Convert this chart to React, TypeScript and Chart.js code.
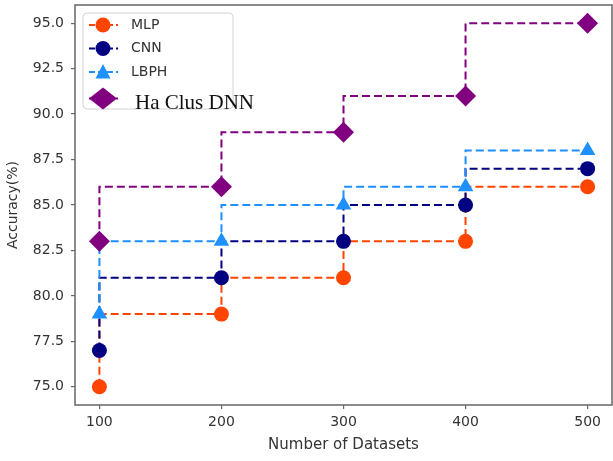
import React, { useEffect, useRef } from "react";
import { Chart, registerables } from "chart.js";

Chart.register(...registerables);

// ---- data ----
const datasetSizes = [100, 200, 300, 400, 500];
const mlpAccuracy = [75, 79, 81, 83, 86];
const cnnAccuracy = [77, 81, 83, 85, 87];
const lbphAccuracy = [79, 83, 85, 86, 88];
const haClusDnnAccuracy = [83, 86, 89, 91, 95];
const xTickValues = [100, 200, 300, 400, 500];
const yTickValues = [75, 77.5, 80, 82.5, 85, 87.5, 90, 92.5, 95];
const seriesLabels = ["MLP", "CNN", "LBPH", "Ha Clus DNN"];

const colors = ["#FF4500", "#000080", "#1E90FF", "#800080"];
const shapes = ["circle", "circle", "triangle", "rectRot"];
const radii = [7.5, 7.5, 9, 10.5];
const seriesValues = [mlpAccuracy, cnnAccuracy, lbphAccuracy, haClusDnnAccuracy];

const SPINE = "#666666";
const TEXT = "#333333";

function drawMarker(ctx: CanvasRenderingContext2D, shape: string, x: number, y: number, color: string, legend: boolean) {
  ctx.fillStyle = color;
  ctx.beginPath();
  if (shape === "circle") {
    ctx.arc(x, y, 7.5, 0, Math.PI * 2);
  } else if (shape === "triangle") {
    ctx.moveTo(x, y - 8);
    ctx.lineTo(x + 7.5, y + 6.5);
    ctx.lineTo(x - 7.5, y + 6.5);
    ctx.closePath();
  } else {
    const hw = legend ? 14 : 10.5;
    const hh = legend ? 11 : 10.5;
    ctx.moveTo(x - hw, y);
    ctx.lineTo(x, y - hh);
    ctx.lineTo(x + hw, y);
    ctx.lineTo(x, y + hh);
    ctx.closePath();
  }
  ctx.fill();
}

const framePlugin = {
  id: "frameAndLegend",
  afterDraw(chart: any) {
    const { ctx, chartArea } = chart;
    ctx.save();
    // spines
    ctx.strokeStyle = SPINE;
    ctx.lineWidth = 1.5;
    ctx.strokeRect(chartArea.left, chartArea.top, chartArea.right - chartArea.left, chartArea.bottom - chartArea.top);

    // legend box
    const bx = chartArea.left + 8;
    const by = chartArea.top + 8;
    const bw = 150;
    const bh = 96;
    const r = 4;
    ctx.beginPath();
    ctx.moveTo(bx + r, by);
    ctx.lineTo(bx + bw - r, by);
    ctx.quadraticCurveTo(bx + bw, by, bx + bw, by + r);
    ctx.lineTo(bx + bw, by + bh - r);
    ctx.quadraticCurveTo(bx + bw, by + bh, bx + bw - r, by + bh);
    ctx.lineTo(bx + r, by + bh);
    ctx.quadraticCurveTo(bx, by + bh, bx, by + bh - r);
    ctx.lineTo(bx, by + r);
    ctx.quadraticCurveTo(bx, by, bx + r, by);
    ctx.closePath();
    ctx.fillStyle = "rgba(255,255,255,0.85)";
    ctx.fill();
    ctx.strokeStyle = "#d4d4d4";
    ctx.lineWidth = 1;
    ctx.stroke();

    seriesLabels.forEach((label, i) => {
      const cy = by + 12 + i * 23.5 + (i === 3 ? 3 : 0);
      const lx0 = bx + 6;
      const lx1 = bx + 35;
      const mx = bx + 20;
      ctx.strokeStyle = colors[i];
      ctx.lineWidth = 2;
      ctx.setLineDash([6, 3]);
      ctx.beginPath();
      ctx.moveTo(lx0, cy);
      ctx.lineTo(lx1, cy);
      ctx.stroke();
      ctx.setLineDash([]);
      drawMarker(ctx, shapes[i], mx, cy, colors[i], true);
      ctx.textBaseline = "middle";
      ctx.textAlign = "left";
      if (i === 3) {
        ctx.fillStyle = "#111111";
        ctx.font = "21px 'Liberation Serif', 'DejaVu Serif', serif";
        ctx.fillText(label, bx + 52, cy + 5);
      } else {
        ctx.fillStyle = TEXT;
        ctx.font = "14px 'DejaVu Sans', sans-serif";
        ctx.fillText(label, bx + 48, cy);
      }
    });
    ctx.restore();
  },
};

function zeroPadding(scale: any) {
  scale.paddingTop = 0;
  scale.paddingBottom = 0;
  scale.paddingLeft = 0;
  scale.paddingRight = 0;
}

export default function App() {
  const canvasRef = useRef<HTMLCanvasElement | null>(null);

  useEffect(() => {
    if (!canvasRef.current) return;
    const datasets = seriesLabels.map((label, i) => ({
      label,
      data: datasetSizes.map((x, j) => ({ x, y: seriesValues[i][j] })),
      borderColor: colors[i],
      backgroundColor: colors[i],
      borderWidth: 2,
      borderDash: [8, 4],
      stepped: "after" as const,
      pointStyle: shapes[i],
      pointRadius: radii[i],
      pointBorderWidth: 0,
      pointBackgroundColor: colors[i],
      order: 4 - i,
      fill: false,
    }));

    const chart = new Chart(canvasRef.current, {
      type: "line",
      data: { datasets },
      plugins: [framePlugin],
      options: {
        animation: false,
        responsive: false,
        devicePixelRatio: 1,
        layout: { autoPadding: false, padding: { top: 5, right: 1, left: 0, bottom: 0 } },
        plugins: { legend: { display: false }, tooltip: { enabled: false } },
        scales: {
          x: {
            type: "linear",
            min: 80,
            max: 520,
            afterBuildTicks: (scale: any) => {
              scale.ticks = xTickValues.map((v) => ({ value: v }));
            },
            afterFit: (scale: any) => {
              scale.height = 56;
              zeroPadding(scale);
            },
            ticks: {
              color: TEXT,
              font: { family: "'DejaVu Sans', sans-serif", size: 14 },
              padding: 5,
              maxRotation: 0,
              callback: (v: any) => String(v),
            },
            grid: { display: true, drawOnChartArea: false, drawTicks: true, tickLength: 4, color: SPINE, lineWidth: 1.2 },
            border: { display: false },
            title: {
              display: true,
              text: "Number of Datasets",
              color: TEXT,
              font: { family: "'DejaVu Sans', sans-serif", size: 15 },
              padding: { top: 0, bottom: 7 },
            },
          },
          y: {
            type: "linear",
            min: 74,
            max: 96,
            afterBuildTicks: (scale: any) => {
              scale.ticks = yTickValues.map((v) => ({ value: v }));
            },
            afterFit: (scale: any) => {
              scale.width = 75;
              zeroPadding(scale);
            },
            ticks: {
              color: TEXT,
              font: { family: "'DejaVu Sans', sans-serif", size: 14 },
              padding: 7,
              callback: (v: any) => Number(v).toFixed(1),
            },
            grid: { display: true, drawOnChartArea: false, drawTicks: true, tickLength: 4, color: SPINE, lineWidth: 1.2 },
            border: { display: false },
            title: {
              display: true,
              text: "Accuracy(%)",
              color: TEXT,
              font: { family: "'DejaVu Sans', sans-serif", size: 14 },
              padding: { top: 5, bottom: 0 },
            },
          },
        },
      } as any,
    });
    return () => chart.destroy();
  }, []);

  return (
    <div style={{ position: "fixed", left: 0, top: 0, width: 613, height: 461, background: "#fff" }}>
      <canvas ref={canvasRef} width={613} height={461} style={{ display: "block" }} />
    </div>
  );
}
